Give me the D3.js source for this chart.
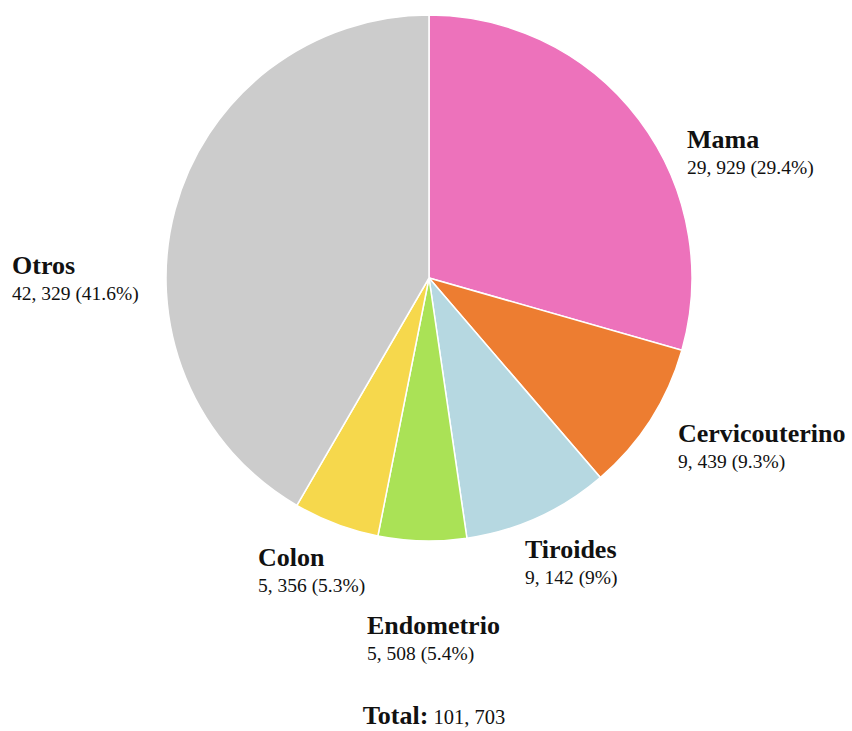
<!DOCTYPE html>
<html>
<head>
<meta charset="utf-8">
<script src="https://cdn.jsdelivr.net/npm/d3@7"></script>
<style>
  body { margin: 0; background: #fff; }
  text { font-family: "Liberation Serif", "Times New Roman", serif; fill: #111; }
  .name { font-weight: bold; font-size: 26px; }
  .val { font-size: 19.5px; }
</style>
</head>
<body>
<script>
// data
var categories = ["Mama", "Cervicouterino", "Tiroides", "Endometrio", "Colon", "Otros"];
var values = [29929, 9439, 9142, 5508, 5356, 42329];
var colors = ["#ED72BB", "#ED7D31", "#B6D8E1", "#AAE256", "#F6D84C", "#CCCCCC"];

// where each label block starts (left x, baseline of name)
var labelAt = [[687, 148], [678, 442], [525, 558], [367, 634], [258, 566], [12, 274]];

var w = 852;
var h = 731;
var cx = 429, cy = 278, radius = 263;

var svg = d3.select("body").append("svg")
  .attr("width", w)
  .attr("height", h);

var total = d3.sum(values);
var fmtNum = function(n) { return d3.format(",")(n).replace(/,/g, ", "); };
var fmtPct = d3.format(".1~f");

var pie = d3.pie().sort(null).value(function(d) { return d; });
var arc = d3.arc().innerRadius(0).outerRadius(radius);

var g = svg.append("g").attr("transform", "translate(" + cx + "," + cy + ")");

g.selectAll("path")
  .data(pie(values))
  .enter().append("path")
  .attr("d", arc)
  .attr("fill", function(d, i) { return colors[i]; })
  .attr("stroke", "#fff")
  .attr("stroke-width", 1.5);

// labels
var labels = svg.selectAll(".lbl")
  .data(categories)
  .enter().append("g")
  .attr("class", "lbl")
  .attr("transform", function(d, i) { return "translate(" + labelAt[i][0] + "," + labelAt[i][1] + ")"; });

labels.append("text")
  .attr("class", "name")
  .text(function(d) { return d; });

labels.append("text")
  .attr("class", "val")
  .attr("y", 26)
  .text(function(d, i) {
    return fmtNum(values[i]) + " (" + fmtPct(values[i] / total * 100) + "%)";
  });

// total
var tot = svg.append("text")
  .attr("x", 434)
  .attr("y", 724)
  .attr("text-anchor", "middle");
tot.append("tspan").attr("class", "name").text("Total:");
tot.append("tspan").style("font-size", "20.5px").text(" " + fmtNum(total));
</script>
</body>
</html>
